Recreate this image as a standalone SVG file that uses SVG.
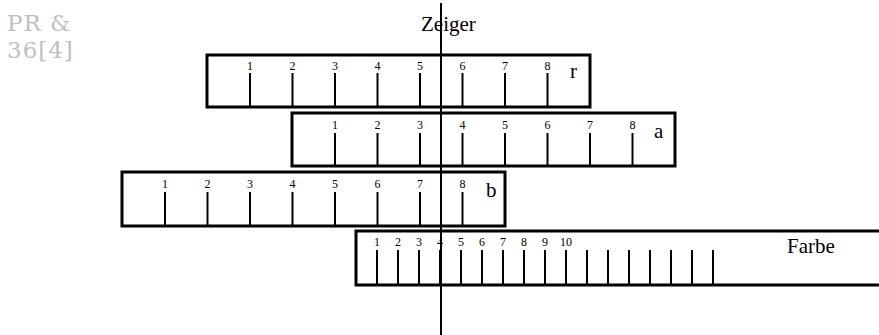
<svg xmlns="http://www.w3.org/2000/svg" width="879" height="335" viewBox="0 0 879 335">
<style>
.box{fill:none;stroke:#000;stroke-width:3}
.tick{stroke:#000;stroke-width:2}
.num{font-size:12px;text-anchor:middle;fill:#000}
.lab{font-size:21px;fill:#000}
.wm{font-size:23px;fill:#c0c0c0;letter-spacing:1px}
</style>
<rect width="879" height="335" fill="#fff"/>
<g font-family="Liberation Serif, Times New Roman, DejaVu Serif, serif">
<g id="watermark" font-family="DejaVu Serif, Liberation Serif, serif">
<text class="wm" x="7" y="31">PR &amp;</text>
<text class="wm" x="7" y="58">36[4]</text>
</g>
<g id="scale-r">
<rect class="box" x="207" y="55" width="383" height="52"/>
<g class="tick">
<line x1="250" y1="73" x2="250" y2="107"/><line x1="292.5" y1="73" x2="292.5" y2="107"/><line x1="335" y1="73" x2="335" y2="107"/><line x1="377.5" y1="73" x2="377.5" y2="107"/><line x1="420" y1="73" x2="420" y2="107"/><line x1="462.5" y1="73" x2="462.5" y2="107"/><line x1="505" y1="73" x2="505" y2="107"/><line x1="547.5" y1="73" x2="547.5" y2="107"/>
</g>
<text class="num" x="250" y="70">1</text><text class="num" x="292.5" y="70">2</text><text class="num" x="335" y="70">3</text><text class="num" x="377.5" y="70">4</text><text class="num" x="420" y="70">5</text><text class="num" x="462.5" y="70">6</text><text class="num" x="505" y="70">7</text><text class="num" x="547.5" y="70">8</text>
<text class="lab" x="570" y="78">r</text>
</g>
<g id="scale-a">
<rect class="box" x="292" y="113" width="383" height="53"/>
<g class="tick">
<line x1="335" y1="133" x2="335" y2="166"/><line x1="377.5" y1="133" x2="377.5" y2="166"/><line x1="420" y1="133" x2="420" y2="166"/><line x1="462.5" y1="133" x2="462.5" y2="166"/><line x1="505" y1="133" x2="505" y2="166"/><line x1="547.5" y1="133" x2="547.5" y2="166"/><line x1="590" y1="133" x2="590" y2="166"/><line x1="632.5" y1="133" x2="632.5" y2="166"/>
</g>
<text class="num" x="335" y="129">1</text><text class="num" x="377.5" y="129">2</text><text class="num" x="420" y="129">3</text><text class="num" x="462.5" y="129">4</text><text class="num" x="505" y="129">5</text><text class="num" x="547.5" y="129">6</text><text class="num" x="590" y="129">7</text><text class="num" x="632.5" y="129">8</text>
<text class="lab" x="654" y="138">a</text>
</g>
<g id="scale-b">
<rect class="box" x="122" y="172" width="383" height="54"/>
<g class="tick">
<line x1="165" y1="192" x2="165" y2="226"/><line x1="207.5" y1="192" x2="207.5" y2="226"/><line x1="250" y1="192" x2="250" y2="226"/><line x1="292.5" y1="192" x2="292.5" y2="226"/><line x1="335" y1="192" x2="335" y2="226"/><line x1="377.5" y1="192" x2="377.5" y2="226"/><line x1="420" y1="192" x2="420" y2="226"/><line x1="462.5" y1="192" x2="462.5" y2="226"/>
</g>
<text class="num" x="165" y="188">1</text><text class="num" x="207.5" y="188">2</text><text class="num" x="250" y="188">3</text><text class="num" x="292.5" y="188">4</text><text class="num" x="335" y="188">5</text><text class="num" x="377.5" y="188">6</text><text class="num" x="420" y="188">7</text><text class="num" x="462.5" y="188">8</text>
<text class="lab" x="486" y="197">b</text>
</g>
<g id="scale-farbe">
<rect class="box" x="356" y="231" width="540" height="54"/>
<g class="tick">
<line x1="377" y1="250" x2="377" y2="285"/><line x1="398" y1="250" x2="398" y2="285"/><line x1="419" y1="250" x2="419" y2="285"/><line x1="440" y1="250" x2="440" y2="285"/><line x1="461" y1="250" x2="461" y2="285"/><line x1="482" y1="250" x2="482" y2="285"/><line x1="503" y1="250" x2="503" y2="285"/><line x1="524" y1="250" x2="524" y2="285"/><line x1="545" y1="250" x2="545" y2="285"/><line x1="566" y1="250" x2="566" y2="285"/><line x1="587" y1="250" x2="587" y2="285"/><line x1="608" y1="250" x2="608" y2="285"/><line x1="629" y1="250" x2="629" y2="285"/><line x1="650" y1="250" x2="650" y2="285"/><line x1="671" y1="250" x2="671" y2="285"/><line x1="692" y1="250" x2="692" y2="285"/><line x1="713" y1="250" x2="713" y2="285"/>
</g>
<text class="num" x="377" y="246">1</text><text class="num" x="398" y="246">2</text><text class="num" x="419" y="246">3</text><text class="num" x="440" y="246">4</text><text class="num" x="461" y="246">5</text><text class="num" x="482" y="246">6</text><text class="num" x="503" y="246">7</text><text class="num" x="524" y="246">8</text><text class="num" x="545" y="246">9</text><text class="num" x="566" y="246">10</text>
<text class="lab" x="787" y="253">Farbe</text>
</g>
<g id="connectors">
<line x1="441" y1="3" x2="441" y2="335" stroke="#000" stroke-width="2"/>
</g>
<g id="zeiger">
<text class="lab" x="421" y="31">Zeiger</text>
</g>
</g>
</svg>
